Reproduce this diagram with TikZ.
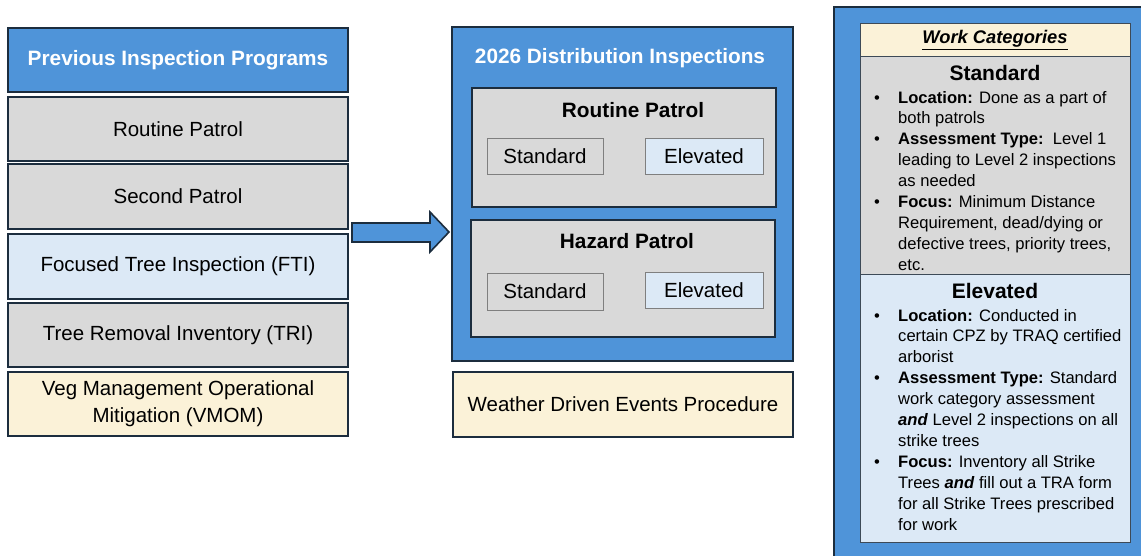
\documentclass[tikz,border=0pt]{standalone}
\usepackage{fontspec}
\setmainfont{Liberation Sans}
\usepackage{array}
\definecolor{pblue}{HTML}{4F94D9}
\definecolor{pgray}{HTML}{D9D9D9}
\definecolor{plblue}{HTML}{DCE9F6}
\definecolor{pcream}{HTML}{FBF2D8}
\definecolor{pline}{HTML}{1C2D3E}
\definecolor{pgline}{HTML}{7F7F7F}
\definecolor{pdgline}{HTML}{3D4A57}
\tikzset{
  box/.style={draw=pline, line width=1.6pt, rectangle, inner sep=0pt, font=\fontsize{20.5}{27}\selectfont, align=center},
  graybox/.style={box, fill=pgray},
  lbluebox/.style={box, fill=plblue},
  creambox/.style={box, fill=pcream},
  bluebox/.style={box, fill=pblue},
  smallbox/.style={draw=pgline, line width=1pt, rectangle, inner sep=0pt, font=\fontsize{20.5}{24}\selectfont, minimum width=116pt, minimum height=36pt},
  ttl/.style={inner sep=0pt, font=\bfseries\fontsize{20.8}{24}\selectfont},
  wtxt/.style={inner sep=0pt, anchor=base west, font=\fontsize{16.6}{20.9}\selectfont},
}
\newcommand{\bl}{\makebox[25pt][l]{\hspace{1pt}•}}
\newcommand{\ind}{\hspace*{25pt}}
\begin{document}
\begin{tikzpicture}[x=1pt,y=-1pt]
\useasboundingbox (0,0) rectangle (1141,555);
\fill[white] (0,0) rectangle (1141,555);
% left column
\node[bluebox, minimum width=340pt, minimum height=64pt] (hdr) at (178,60) {};
\node[ttl, text=white] (hdrt) at (178,60) {Previous Inspection Programs};
\node[graybox, minimum width=340pt, minimum height=64pt] (rp) at (178,129) {Routine Patrol};
\node[graybox, minimum width=340pt, minimum height=65pt] (sp) at (178,196.5) {Second Patrol};
\node[lbluebox, minimum width=340pt, minimum height=65pt] (fti) at (178,266.5) {Focused Tree Inspection (FTI)};
\node[graybox, minimum width=340pt, minimum height=64pt] (tri) at (178,335) {Tree Removal Inventory (TRI)};
\node[creambox, minimum width=340pt, minimum height=64pt] (vmom) at (178,404) {Veg Management Operational\\Mitigation (VMOM)};
% arrow
\draw[pline, line width=1.6pt, fill=pblue, line join=miter]
  (352,223) -- (430,223) -- (430,212) -- (449,232) -- (430,252) -- (430,242) -- (352,242) -- cycle;
% middle
\node[bluebox, minimum width=341pt, minimum height=334pt] (dist) at (622.5,194) {};
\node[ttl, text=white] (distt) at (620,58) {2026 Distribution Inspections};
\node[graybox, minimum width=304pt, minimum height=119pt] (routine) at (624,147.5) {};
\node[ttl] (routinet) at (633,110) {Routine Patrol};
\node[smallbox, fill=pgray] (rstd) at (545,156) {Standard};
\node[smallbox, fill=plblue, minimum width=118pt] (relv) at (704,156) {Elevated};
\node[graybox, minimum width=304pt, minimum height=117pt] (hazard) at (623,278.5) {};
\node[ttl] (hazardt) at (627,241) {Hazard Patrol};
\node[smallbox, fill=pgray, minimum height=37pt] (hstd) at (545,291.5) {Standard};
\node[smallbox, fill=plblue, minimum width=118pt] (helv) at (704,290) {Elevated};
\node[creambox, minimum width=340pt, minimum height=65pt] (weather) at (623,404.5) {Weather Driven Events Procedure};
% right panel
\begin{scope}
\clip (0,0) rectangle (1141,555);
\draw[pline, line width=1.6pt, fill=pblue] (834,7) rectangle (1170,580);
\end{scope}
\node[draw=pdgline, line width=1pt, fill=pcream, minimum width=270pt, minimum height=33pt, inner sep=0pt] (wch) at (995,39.5) {};
\node[draw=pdgline, line width=1pt, fill=pgray, minimum width=270pt, minimum height=218pt, inner sep=0pt] (wstd) at (995,165) {};
\node[draw=pdgline, line width=1pt, fill=plblue, minimum width=270pt, minimum height=268pt, inner sep=0pt] (welv) at (995,408) {};
\node[inner sep=0pt, font=\bfseries\itshape\fontsize{18.3}{22}\selectfont] (wct) at (995,40) {\underline{Work Categories}};
\node[inner sep=0pt, font=\bfseries\fontsize{21}{24}\selectfont] (stdt) at (995,73) {Standard};
\node[wtxt] (stdb) at (873,103) {\begin{tabular}[t]{@{}l@{}}
\bl\textbf{Location:} Done as a part of\\
\ind both patrols\\
\bl\textbf{Assessment Type:}\ \ Level 1\\
\ind leading to Level 2 inspections\\
\ind as needed\\
\bl\textbf{Focus:} Minimum Distance\\
\ind Requirement, dead/dying or\\
\ind defective trees, priority trees,\\
\ind etc.
\end{tabular}};
\node[inner sep=0pt, font=\bfseries\fontsize{21}{24}\selectfont] (elvt) at (995,291) {Elevated};
\node[wtxt] (elvb) at (873,321) {\begin{tabular}[t]{@{}l@{}}
\bl\textbf{Location:} Conducted in\\
\ind certain CPZ by TRAQ certified\\
\ind arborist\\
\bl\textbf{Assessment Type:} Standard\\
\ind work category assessment\\
\ind\textbf{\textit{and}} Level 2 inspections on all\\
\ind strike trees\\
\bl\textbf{Focus:} Inventory all Strike\\
\ind Trees \textbf{\textit{and}} fill out a TRA form\\
\ind for all Strike Trees prescribed\\
\ind for work
\end{tabular}};
\end{tikzpicture}
\end{document}
